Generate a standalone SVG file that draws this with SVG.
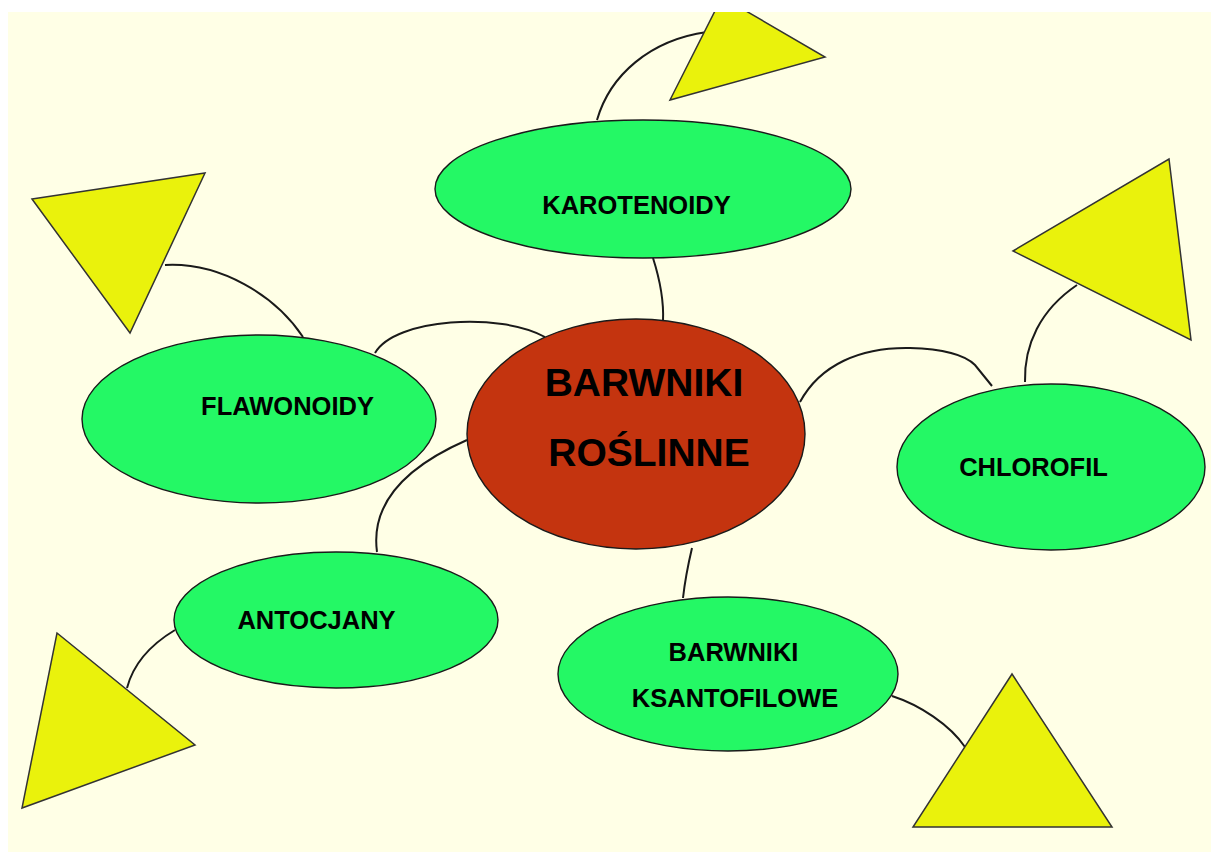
<svg xmlns="http://www.w3.org/2000/svg" width="1211" height="852" viewBox="0 0 1211 852">
  <defs>
    <clipPath id="area"><rect x="8" y="12" width="1203" height="840"/></clipPath>
    <style>
      .bg { fill: #FFFFE6; }
      .green { fill: #24F865; stroke: #1a1a1a; stroke-width: 1.4; }
      .center { fill: #C4340F; stroke: #1a1a1a; stroke-width: 1.4; }
      .tri { fill: #EAF20C; stroke: #333; stroke-width: 1.5; stroke-linejoin: miter; }
      .conn { fill: none; stroke: #1a1a1a; stroke-width: 2; }
      .lbl { font-family: "Liberation Sans", Arial, sans-serif; font-weight: bold; font-size: 25.5px; fill: #000; text-anchor: middle; }
      .big { font-family: "Liberation Sans", Arial, sans-serif; font-weight: bold; font-size: 39px; fill: #000; text-anchor: middle; }
    </style>
  </defs>
  <rect x="0" y="0" width="1211" height="852" fill="#FFFFFF"/>
  <rect class="bg" x="8" y="12" width="1203" height="840"/>
  <g clip-path="url(#area)">
    <g id="connectors">
      <path class="conn" d="M597,120 C610,75 650,40 707,32"/>
      <path class="conn" d="M165,265 C220,262 275,295 303,337"/>
      <path class="conn" d="M1077,285 C1040,310 1024,345 1025,382"/>
      <path class="conn" d="M175,630 C150,645 133,665 127,688"/>
      <path class="conn" d="M892,696 C920,705 950,725 965,747"/>
      <path class="conn" d="M653,258 C660,280 664,300 663,321"/>
      <path class="conn" d="M375,353 C395,318 500,312 545,337"/>
      <path class="conn" d="M467,440 C410,465 370,500 377,552"/>
      <path class="conn" d="M800,402 C820,365 860,347 910,348 C945,349 965,355 975,365 L992,386"/>
      <path class="conn" d="M692,548 C688,565 685,580 683,598"/>
    </g>
    <g id="tri-karotenoidy"><polygon class="tri" points="670,100 722,-3 825,57"/></g>
    <g id="tri-flawonoidy"><polygon class="tri" points="32,199 205,173 130,333"/></g>
    <g id="tri-chlorofil"><polygon class="tri" points="1013,251 1169,159 1191,340"/></g>
    <g id="tri-antocjany"><polygon class="tri" points="57,633 195,745 22,808"/></g>
    <g id="tri-ksantofilowe"><polygon class="tri" points="1012,674 913,827 1112,827"/></g>
    <g id="karotenoidy">
      <ellipse class="green" cx="643" cy="189" rx="208" ry="69"/>
      <text class="lbl" x="636.5" y="214">KAROTENOIDY</text>
    </g>
    <g id="flawonoidy">
      <ellipse class="green" cx="259" cy="419" rx="177" ry="84"/>
      <text class="lbl" x="287.5" y="415">FLAWONOIDY</text>
    </g>
    <g id="chlorofil">
      <ellipse class="green" cx="1051" cy="467" rx="154" ry="83"/>
      <text class="lbl" x="1033.5" y="476">CHLOROFIL</text>
    </g>
    <g id="antocjany">
      <ellipse class="green" cx="336" cy="620" rx="162" ry="68"/>
      <text class="lbl" x="316.5" y="629">ANTOCJANY</text>
    </g>
    <g id="ksantofilowe">
      <ellipse class="green" cx="728" cy="674" rx="170" ry="77"/>
      <text class="lbl" x="733.5" y="661">BARWNIKI</text>
      <text class="lbl" x="735" y="707">KSANTOFILOWE</text>
    </g>
    <g id="barwniki-roslinne">
      <ellipse class="center" cx="636" cy="434" rx="169" ry="115"/>
      <text class="big" x="644" y="396">BARWNIKI</text>
      <text class="big" x="649" y="466">ROŚLINNE</text>
    </g>
  </g>
</svg>
